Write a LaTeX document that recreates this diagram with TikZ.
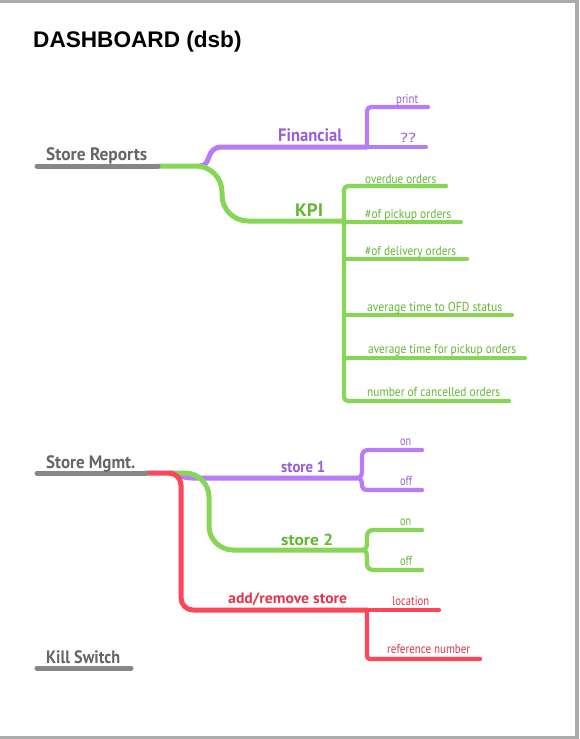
\documentclass[tikz,border=0pt]{standalone}
\usepackage{fontspec}
\setmainfont{PT Sans}
\newfontfamily\titlefont{Liberation Sans}
\usepackage{graphicx}
\definecolor{lgray}{HTML}{878787}
\definecolor{tgray}{HTML}{666666}
\definecolor{lgreen}{HTML}{88D655}
\definecolor{tgreen}{HTML}{62B831}
\definecolor{lpurple}{HTML}{B87BFA}
\definecolor{tpurple}{HTML}{9A5CD8}
\definecolor{lred}{HTML}{FF4659}
\definecolor{tred}{HTML}{E0364C}
\definecolor{frame}{HTML}{ABABAB}
\newcommand\fitw[3]{\resizebox{#1pt}{\height}{\fontsize{#2}{#2}\selectfont #3}}
\tikzset{
  lbl/.style={inner sep=0pt, anchor=base west},
  big/.style={lbl, font=\bfseries},
  main/.style={line width=5pt, line cap=round, line join=round},
  sub/.style={line width=4.3pt, line cap=round, line join=round},
}
\begin{document}
\begin{tikzpicture}[x=1pt,y=-1pt]
\useasboundingbox (0,0) rectangle (579,739);
\fill[frame] (0,0) rectangle (579,739);
\fill[white] (0,3) rectangle (575,736);

\node[lbl] (title) at (33,47) {\titlefont\bfseries\fontsize{22.6}{22.6}\selectfont DASHBOARD (dsb)};

% ---------- Store Reports ----------
\coordinate (sr0) at (37,166);
\coordinate (sr1) at (158,166);
\coordinate (fin0) at (200,166);
\coordinate (fin1) at (222,147);
\coordinate (finj) at (367,147);
\coordinate (prt) at (428,107);
\coordinate (qq) at (426,147);
\coordinate (kpij) at (344,221);

% Financial (purple)
\draw[main, lpurple] (fin0) .. controls (212,166) and (205,147) .. (fin1) -- (finj);
\draw[sub, lpurple, rounded corners=4pt] (finj) -- (367,107) -- (prt);
\draw[sub, lpurple] (finj) -- (qq);

% KPI (green)
\draw[main, lgreen, rounded corners=26pt] (sr1) -- (222,166) -- (222,221) -- (kpij);
\coordinate (k1) at (446,186);
\coordinate (k2) at (461,222);
\coordinate (k3) at (467,259);
\coordinate (k4) at (512,315);
\coordinate (k5) at (525,358);
\coordinate (k6) at (509,401);
\draw[sub, lgreen, rounded corners=4pt] (k1) -- (344,186) -- (344,401) -- (k6);
\draw[sub, lgreen] (344,222) -- (k2);
\draw[sub, lgreen] (344,259) -- (k3);
\draw[sub, lgreen] (344,315) -- (k4);
\draw[sub, lgreen] (344,358) -- (k5);

\draw[main, lgray] (sr0) -- (sr1);

\node[big, text=tgray] (sr) at (46,160) {\fitw{101}{18}{Store Reports}};
\node[big, text=tpurple] (fin) at (278,141) {\fitw{64}{18}{Financial}};
\node[lbl, text=tpurple] (print) at (396,103) {\fitw{22}{13}{print}};
\node[lbl, text=tpurple] (qqt) at (400,142) {\fitw{16}{13}{??}};
\node[big, text=tgreen] (kpi) at (295,216) {\fitw{28}{18}{KPI}};
\node[lbl, text=tgreen] (t1) at (365,183) {\fitw{71}{13}{overdue orders}};
\node[lbl, text=tgreen] (t2) at (365,218) {\fitw{86}{13}{\#of pickup orders}};
\node[lbl, text=tgreen] (t3) at (365,255) {\fitw{91}{13}{\#of delivery orders}};
\node[lbl, text=tgreen] (t4) at (367,311) {\fitw{135}{13}{average time to OFD status}};
\node[lbl, text=tgreen] (t5) at (368,353) {\fitw{148}{13}{average time for pickup orders}};
\node[lbl, text=tgreen] (t6) at (367,396) {\fitw{133}{13}{number of cancelled orders}};

% ---------- Store Mgmt ----------
\coordinate (sm0) at (37,473);
\coordinate (sm1) at (146,473);
\coordinate (s1a) at (170,473);
\coordinate (s1j) at (357,478);
\coordinate (s1on) at (422,450);
\coordinate (s1off) at (422,490);
\coordinate (s2j) at (362,550);
\coordinate (s2on) at (422,530);
\coordinate (s2off) at (422,570);
\coordinate (rj) at (367,610);
\coordinate (loc) at (439,610);
\coordinate (ref) at (480,659);

% store 1 (purple)
\draw[main, lpurple] (s1a) .. controls (180,473) and (180,478) .. (192,478) -- (s1j);
\draw[sub, lpurple] (s1j) .. controls (361,478) and (362,475) .. (362,470) -- (362,457)
  .. controls (362,452) and (364,450) .. (369,450) -- (s1on);
\draw[sub, lpurple] (s1j) .. controls (361,478) and (362,481) .. (362,486)
  .. controls (362,489) and (364,490) .. (369,490) -- (s1off);

% store 2 (green)
\draw[main, lgreen, rounded corners=24pt] (s1a) -- (209,473) -- (209,550) -- (s2j);
\draw[sub, lgreen] (s2j) .. controls (366,550) and (367,547) .. (367,542) -- (367,537)
  .. controls (367,532) and (369,530) .. (374,530) -- (s2on);
\draw[sub, lgreen] (s2j) .. controls (366,550) and (367,553) .. (367,558) -- (367,563)
  .. controls (367,568) and (369,570) .. (374,570) -- (s2off);

% add/remove store (red)
\draw[main, lred, rounded corners=12pt] (sm1) -- (181,473) -- (181,610) -- (rj);
\draw[sub, lred] (rj) -- (loc);
\draw[sub, lred, rounded corners=3pt] (rj) -- (367,659) -- (ref);

\draw[main, lgray] (sm0) -- (sm1);

\node[big, text=tgray] (sm) at (46,468) {\fitw{89}{18}{Store Mgmt.}};
\node[big, text=tpurple] (s1) at (281,472) {\fitw{44}{16}{store 1}};
\node[lbl, text=tpurple] (s1ont) at (400,445) {\fitw{11}{13}{on}};
\node[lbl, text=tpurple] (s1offt) at (400,485) {\fitw{12}{13}{off}};
\node[big, text=tgreen] (s2) at (281,545) {\fitw{52}{16}{store 2}};
\node[lbl, text=tgreen] (s2ont) at (400,525) {\fitw{11}{13}{on}};
\node[lbl, text=tgreen] (s2offt) at (400,565) {\fitw{12}{13}{off}};
\node[big, text=tred] (ar) at (228,603) {\fitw{119}{15}{add/remove store}};
\node[lbl, text=tred] (loct) at (392,605) {\fitw{37}{13}{location}};
\node[lbl, text=tred] (reft) at (387,653) {\fitw{83}{13}{reference number}};

% ---------- Kill Switch ----------
\coordinate (ks0) at (37,668);
\coordinate (ks1) at (131,668);
\draw[main, lgray] (ks0) -- (ks1);
\node[big, text=tgray] (ks) at (46,663) {\fitw{74}{18}{Kill Switch}};
\end{tikzpicture}
\end{document}
